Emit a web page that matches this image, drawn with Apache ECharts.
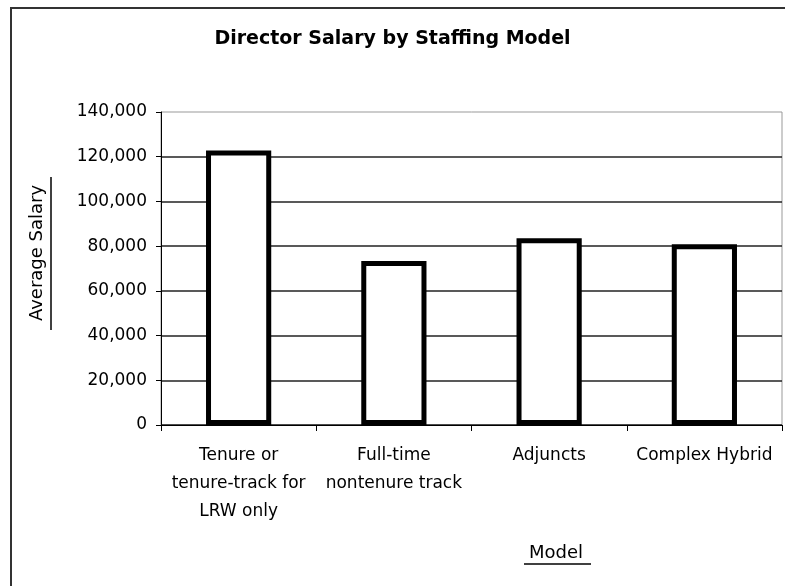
<!DOCTYPE html>
<html>
<head>
<meta charset="utf-8">
<script src="https://cdn.jsdelivr.net/npm/echarts@6/dist/echarts.min.js"></script>
<style>
  html, body { margin: 0; padding: 0; background: #fff; }
  #chart { width: 785px; height: 586px; }
</style>
</head>
<body>
<div id="chart"></div>
<script>
// data
const categories = [
  'Tenure or\ntenure-track for\nLRW only',
  'Full-time\nnontenure track',
  'Adjuncts',
  'Complex Hybrid'
];
const salaries = [122800, 73300, 83500, 80800];

const FONT = 'DejaVu Sans';

const chart = echarts.init(document.getElementById('chart'), null, { renderer: 'canvas' });

chart.setOption({
  animation: false,
  backgroundColor: '#fff',
  title: {
    text: 'Director Salary by Staffing Model',
    left: 'center',
    top: 25,
    textStyle: { fontFamily: FONT, fontWeight: 'bold', fontSize: 19, color: '#000' }
  },
  grid: {
    left: 161, right: 3, top: 112, bottom: 161,
    show: true, borderColor: '#999', borderWidth: 1, backgroundColor: '#fff'
  },
  xAxis: {
    type: 'category',
    data: categories,
    axisLine: { lineStyle: { color: '#000', width: 1 } },
    axisTick: { show: true, length: 6, lineStyle: { color: '#000' } },
    axisLabel: {
      interval: 0, margin: 17, color: '#000',
      fontFamily: FONT, fontSize: 17, lineHeight: 28
    }
  },
  yAxis: {
    type: 'value',
    min: 0, max: 140000, interval: 20000,
    axisLine: { show: true, lineStyle: { color: '#000', width: 1 } },
    axisTick: { show: true, length: 5, lineStyle: { color: '#000' } },
    axisLabel: {
      margin: 14, color: '#000', fontFamily: FONT, fontSize: 17,
      formatter: v => v.toLocaleString('en-US')
    },
    splitLine: { show: true, showMaxLine: false, lineStyle: { color: '#222', width: 1.5 } }
  },
  series: [{
    type: 'bar',
    data: salaries,
    barWidth: '42%',
    itemStyle: { color: '#fff', borderColor: '#000', borderWidth: 5 }
  }],
  graphic: [
    // outer chart frame (cut off at right and bottom)
    { type: 'rect', shape: { x: 11, y: 8, width: 800, height: 600 },
      style: { fill: 'none', stroke: '#333', lineWidth: 2 }, z: 100 },
    // y axis title, underlined
    { type: 'text', x: 37, y: 253, rotation: Math.PI / 2,
      style: { text: 'Average Salary', fontFamily: FONT, fontSize: 18, fill: '#000',
               align: 'center', verticalAlign: 'middle' }, z: 100 },
    { type: 'line', shape: { x1: 51, y1: 177, x2: 51, y2: 330 },
      style: { stroke: '#000', lineWidth: 1.5 }, z: 100 },
    // x axis title, underlined
    { type: 'text', x: 556, y: 553,
      style: { text: 'Model', fontFamily: FONT, fontSize: 18, fill: '#000',
               align: 'center', verticalAlign: 'middle' }, z: 100 },
    { type: 'line', shape: { x1: 524, y1: 564, x2: 591, y2: 564 },
      style: { stroke: '#000', lineWidth: 1.5 }, z: 100 }
  ]
});
</script>
</body>
</html>
